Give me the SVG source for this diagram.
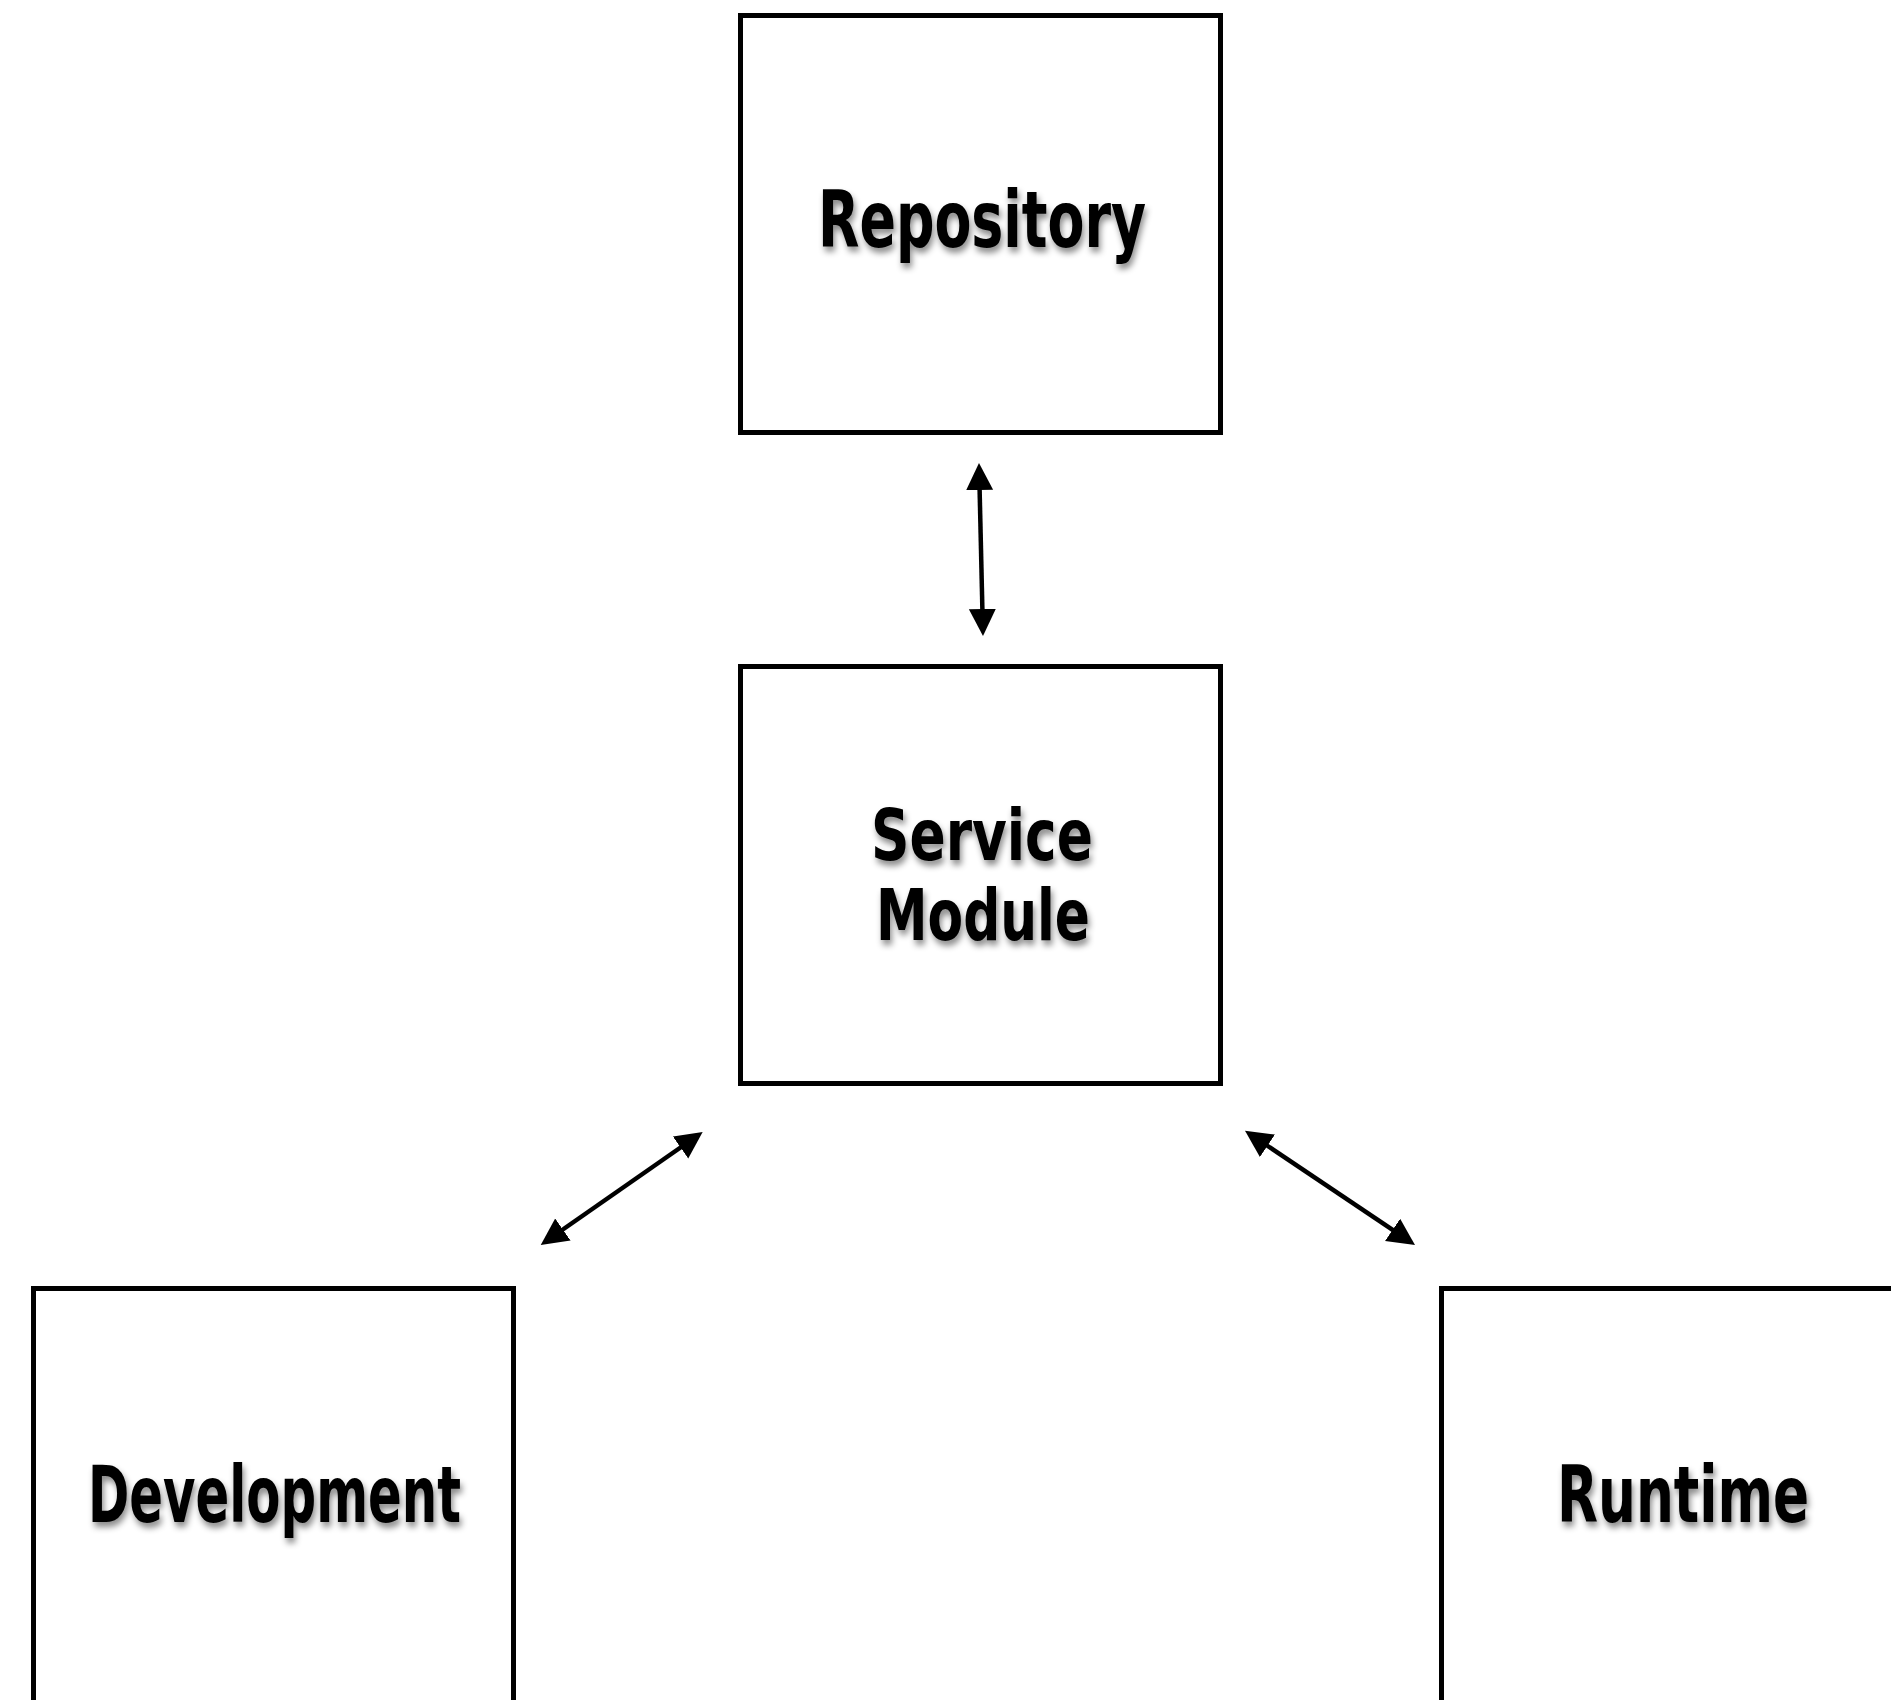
<svg xmlns="http://www.w3.org/2000/svg" width="1891" height="1700" viewBox="0 0 1891 1700">
  <style>
    .box { fill: #ffffff; stroke: #000000; stroke-width: 5; }
    .lbl { font-family: "Liberation Sans Narrow", "DejaVu Sans Condensed", "Liberation Sans", sans-serif; font-weight: bold; font-size: 78px; fill: #000000; text-anchor: middle; filter: url(#shadow); }
    .tight { font-size: 72px; }
    .conn { stroke: #000000; stroke-width: 4.5; fill: none; marker-start: url(#head); marker-end: url(#head); }
  </style>
  <defs>
    <filter id="shadow" x="-10%" y="-20%" width="120%" height="150%">
      <feDropShadow dx="2" dy="5" stdDeviation="3" flood-color="#000000" flood-opacity="0.45"/>
    </filter>
    <marker id="head" markerUnits="userSpaceOnUse" markerWidth="28" markerHeight="28" viewBox="0 0 28 28" refX="14" refY="13.5" orient="auto-start-reverse">
      <path d="M0,0 L27,13.5 L0,27 z" fill="#000000"/>
    </marker>
  </defs>
  <rect x="0" y="0" width="1891" height="1700" fill="#ffffff"/>

  <g id="connectors">
    <line class="conn" x1="979.3" y1="476" x2="982.7" y2="623"/>
    <line class="conn" x1="692" y1="1139.5" x2="551.4" y2="1237.5"/>
    <line class="conn" x1="1255.8" y1="1138" x2="1404.2" y2="1237.7"/>
  </g>

  <g id="repository">
    <rect class="box" x="740.5" y="15.5" width="480" height="417"/>
    <text class="lbl" x="982" y="247" textLength="328" lengthAdjust="spacingAndGlyphs">Repository</text>
  </g>

  <g id="service-module">
    <rect class="box" x="740.5" y="666.5" width="480" height="417"/>
    <text class="lbl tight" x="982" y="860" textLength="222" lengthAdjust="spacingAndGlyphs">Service</text>
    <text class="lbl tight" x="983" y="940" textLength="214" lengthAdjust="spacingAndGlyphs">Module</text>
  </g>

  <g id="development">
    <rect class="box" x="33.5" y="1288.5" width="480" height="417"/>
    <text class="lbl" x="274.5" y="1522" textLength="373" lengthAdjust="spacingAndGlyphs">Development</text>
  </g>

  <g id="runtime">
    <rect class="box" x="1441.5" y="1288.5" width="480" height="417"/>
    <text class="lbl" x="1683" y="1522" textLength="252" lengthAdjust="spacingAndGlyphs">Runtime</text>
  </g>
</svg>
